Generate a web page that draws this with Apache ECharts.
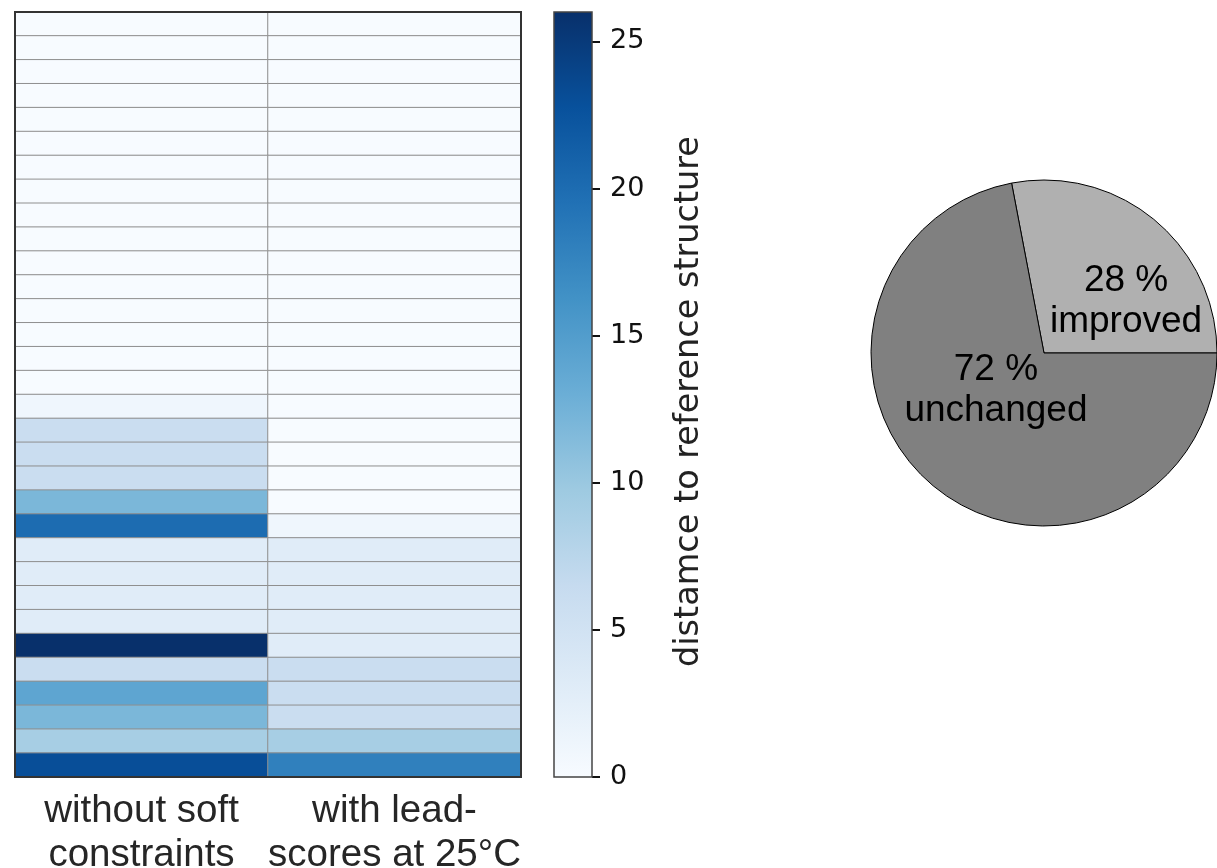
<!DOCTYPE html>
<html>
<head>
<meta charset="utf-8">
<script src="https://cdn.jsdelivr.net/npm/echarts@6/dist/echarts.min.js"></script>
<style>
  html, body { margin: 0; padding: 0; background: #fff; }
  #chart { width: 1217px; height: 868px; }
</style>
</head>
<body>
<div id="chart"></div>
<script>
// two runs, 32 structures (top row first)
const methods = ['without soft\nconstraints', 'with lead-\nscores at 25°C'];
const withoutSoft = [0, 0, 0, 0, 0, 0, 0, 0, 0, 0, 0, 0, 0, 0, 0, 0,
    1, 6, 6, 6, 12, 20, 3, 3, 3, 3, 26, 6, 14, 12, 9, 23];
const withLead = [0, 0, 0, 0, 0, 0, 0, 0, 0, 0, 0, 0, 0, 0, 0, 0,
    0, 0, 0, 0, 0, 1, 3, 3, 3, 3, 3, 6, 6, 6, 9, 18];
const rows = withoutSoft.map((v, i) => 'row ' + (i + 1));

const cbarMax = 26;
const cbarTicks = [0, 5, 10, 15, 20, 25];

const pieNames = ['improved', 'unchanged'];
const pieValues = [28, 72];

const blues = ['#f7fbff', '#deebf7', '#c6dbef', '#9ecae1', '#6baed6',
    '#4292c6', '#2171b5', '#08519c', '#08306b'];

const heatData = [];
rows.forEach((r, i) => {
    heatData.push([0, i, withoutSoft[i]]);
    heatData.push([1, i, withLead[i]]);
});

const cbarGradient = new echarts.graphic.LinearGradient(0, 1, 0, 0,
    blues.map((c, i) => ({ offset: i / (blues.length - 1), color: c })));

const pieColors = ['#b0b0b0', '#808080'];
// nudges for the inside pie labels
const pieLabelShift = [[25, 17], [9, -32]];

const option = {
    animation: false,
    grid: [
        {
            left: 15, top: 12, width: 506, height: 765,
            outerBoundsMode: 'none',
            show: true, borderColor: '#333', borderWidth: 2, z: 10,
            backgroundColor: 'transparent'
        },
        {
            left: 554, top: 12, width: 38, height: 765,
            outerBoundsMode: 'none',
            show: true, borderColor: '#444', borderWidth: 1.5, z: 10,
            backgroundColor: 'transparent'
        }
    ],
    xAxis: [
        {
            gridIndex: 0,
            type: 'category',
            data: methods,
            axisLine: { show: false },
            axisTick: { show: false },
            axisLabel: {
                interval: 0,
                hideOverlap: false,
                fontSize: 38.5,
                lineHeight: 44,
                margin: 12,
                color: '#262626',
                fontFamily: 'Liberation Sans'
            }
        },
        {
            gridIndex: 1,
            type: 'category',
            data: ['cbar'],
            show: false
        }
    ],
    yAxis: [
        {
            gridIndex: 0,
            type: 'category',
            data: rows,
            inverse: true,
            show: false
        },
        {
            gridIndex: 1,
            type: 'value',
            min: 0,
            max: cbarMax,
            position: 'right',
            splitLine: { show: false },
            axisLine: { show: false },
            axisTick: {
                show: true,
                length: 8,
                customValues: cbarTicks,
                lineStyle: { color: '#111', width: 2 }
            },
            axisLabel: {
                customValues: cbarTicks,
                fontSize: 27,
                margin: 18,
                color: '#111',
                fontFamily: 'DejaVu Sans'
            },
            name: 'distamce to reference structure',
            nameLocation: 'middle',
            nameRotate: 90,
            nameGap: 80,
            nameTextStyle: {
                fontSize: 33.5,
                color: '#222',
                fontFamily: 'DejaVu Sans',
                padding: [0, 14, 0, 0]
            }
        }
    ],
    visualMap: {
        show: false,
        seriesIndex: 0,
        min: 0,
        max: cbarMax,
        inRange: { color: blues }
    },
    series: [
        {
            type: 'heatmap',
            xAxisIndex: 0,
            yAxisIndex: 0,
            data: heatData,
            itemStyle: { borderColor: '#8f8f8f', borderWidth: 1 }
        },
        {
            type: 'bar',
            xAxisIndex: 1,
            yAxisIndex: 1,
            data: [cbarMax],
            barWidth: '100%',
            itemStyle: { color: cbarGradient }
        },
        {
            type: 'pie',
            center: [1044, 353],
            radius: 173,
            startAngle: 0,
            clockwise: false,
            itemStyle: { borderColor: '#000', borderWidth: 1 },
            label: {
                position: 'inside',
                formatter: '{c} %\n{b}',
                fontSize: 37,
                lineHeight: 41,
                color: '#000',
                fontFamily: 'Liberation Sans'
            },
            labelLayout: (params) => ({
                dx: pieLabelShift[params.dataIndex][0],
                dy: pieLabelShift[params.dataIndex][1],
                hideOverlap: false
            }),
            labelLine: { show: false },
            emphasis: { disabled: true },
            data: pieNames.map((n, i) => ({
                name: n,
                value: pieValues[i],
                itemStyle: { color: pieColors[i] }
            }))
        }
    ]
};

const chart = echarts.init(document.getElementById('chart'), null, { renderer: 'canvas' });
chart.setOption(option);
</script>
</body>
</html>
